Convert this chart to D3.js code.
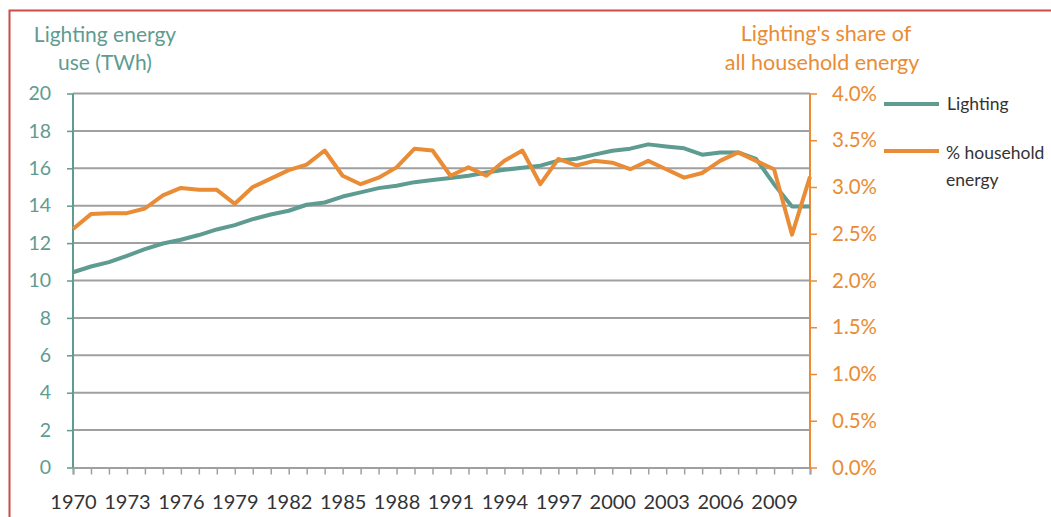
<!DOCTYPE html>
<html><head><meta charset="utf-8">
<script src="https://cdn.jsdelivr.net/npm/d3@7"></script>
<style>body{margin:0;background:#fff}svg{display:block}</style>
</head><body><svg id="c" width="1051" height="517"></svg>
<script>
const years = d3.range(1970, 2012);
const lighting = [10.44,10.75,10.98,11.32,11.68,11.98,12.18,12.43,12.73,12.96,13.28,13.53,13.73,14.05,14.17,14.49,14.71,14.94,15.07,15.26,15.37,15.48,15.6,15.78,15.92,16.03,16.14,16.41,16.51,16.73,16.94,17.05,17.28,17.17,17.07,16.73,16.85,16.85,16.5,15.15,13.96,13.96];
const share = [2.55,2.71,2.72,2.72,2.77,2.91,2.99,2.97,2.97,2.82,3.00,3.09,3.18,3.24,3.39,3.12,3.03,3.10,3.21,3.41,3.39,3.12,3.21,3.12,3.28,3.39,3.03,3.30,3.23,3.28,3.26,3.19,3.28,3.19,3.10,3.15,3.28,3.37,3.28,3.19,2.49,3.11];
const leftTicks = d3.range(0, 21, 2);
const rightTicks = d3.range(0, 4.01, 0.5);
const yearLabels = d3.range(1970, 2010, 3);

const teal = "#5e9b91", orange = "#e98c35", grid = "#a0a0a0";
const svg = d3.select("#c");
const font = "Lato, 'Open Sans', sans-serif";
const L = 73, R = 810, T = 93.5, B = 467.5;

// red frame
svg.append("path").attr("d", "M9.5,517 V10.5 H1051").attr("fill","none").attr("stroke","#cc4b4b").attr("stroke-width",2);

const x = d3.scaleLinear().domain([1970, 2011]).range([L, R]);
const yL = d3.scaleLinear().domain([0, 20]).range([B, T]);
const yR = d3.scaleLinear().domain([0, 4]).range([B, T]);

// gridlines
svg.append("g").selectAll("line").data(leftTicks.filter(d=>d>0)).join("line")
  .attr("x1", L).attr("x2", R).attr("y1", d=>yL(d)).attr("y2", d=>yL(d))
  .attr("stroke", grid).attr("stroke-width", 2);

// bottom axis
const xa = svg.append("g").attr("transform", `translate(0,${B})`)
  .call(d3.axisBottom(x).tickValues(years).tickSize(7).tickFormat(d => yearLabels.includes(d) ? d : ""));
xa.select(".domain").attr("stroke", grid).attr("stroke-width", 2);
xa.selectAll(".tick line").attr("stroke", grid).attr("stroke-width", 1.5);
xa.selectAll("text").attr("font-family", font).attr("font-size", 20).attr("fill", "#333").attr("dy", "1.55em");

// left axis
const la = svg.append("g").attr("transform", `translate(${L},0)`)
  .call(d3.axisLeft(yL).tickValues(leftTicks).tickSize(6).tickPadding(16));
la.select(".domain").attr("stroke", teal).attr("stroke-width", 2).attr("d", `M0,${T}V${B}`);
la.selectAll(".tick line").attr("stroke", teal).attr("stroke-width", 1.5);
la.selectAll("text").attr("font-family", font).attr("font-size", 19.5).attr("fill", teal);

// right axis
const ra = svg.append("g").attr("transform", `translate(${R},0)`)
  .call(d3.axisRight(yR).tickValues(rightTicks).tickSize(7).tickPadding(15).tickFormat(d => d.toFixed(1) + "%"));
ra.select(".domain").attr("stroke", orange).attr("stroke-width", 2).attr("d", `M0,${T}V${B}`);
ra.selectAll(".tick line").attr("stroke", orange).attr("stroke-width", 1.5);
ra.selectAll("text").attr("font-family", font).attr("font-size", 20.5).attr("fill", orange);

// lines
svg.append("path").datum(lighting).attr("fill","none").attr("stroke", teal).attr("stroke-width", 4)
  .attr("stroke-linejoin","round")
  .attr("d", d3.line().x((d,i)=>x(years[i])).y(d=>yL(d)));
svg.append("path").datum(share).attr("fill","none").attr("stroke", orange).attr("stroke-width", 4)
  .attr("stroke-linejoin","round")
  .attr("d", d3.line().x((d,i)=>x(years[i])).y(d=>yR(d)));

// titles
const tL = svg.append("text").attr("font-family", font).attr("font-size", 21).attr("fill", teal).attr("text-anchor","middle");
tL.append("tspan").attr("x", 105).attr("y", 42).text("Lighting energy");
tL.append("tspan").attr("x", 105).attr("y", 70).text("use (TWh)");
const tR = svg.append("text").attr("font-family", font).attr("font-size", 21.5).attr("fill", orange).attr("text-anchor","middle");
tR.append("tspan").attr("x", 826).attr("y", 41).text("Lighting's share of");
tR.append("tspan").attr("x", 822).attr("y", 70).text("all household energy");

// legend
const lg = svg.append("g");
lg.append("line").attr("x1", 884).attr("x2", 939).attr("y1", 104).attr("y2", 104).attr("stroke", teal).attr("stroke-width", 4);
lg.append("text").attr("x", 947).attr("y", 110).attr("font-family", font).attr("font-size", 17.5).attr("fill", "#333").text("Lighting");
lg.append("line").attr("x1", 884).attr("x2", 939).attr("y1", 151).attr("y2", 151).attr("stroke", orange).attr("stroke-width", 4);
const t2 = lg.append("text").attr("font-family", font).attr("font-size", 17.5).attr("fill", "#333");
t2.append("tspan").attr("x", 946).attr("y", 159).text("% household");
t2.append("tspan").attr("x", 946).attr("y", 186).text("energy");
</script></body></html>
